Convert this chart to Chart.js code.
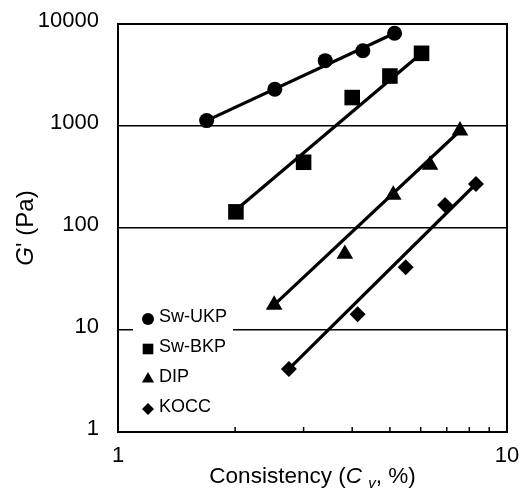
<!DOCTYPE html>
<html><head><meta charset="utf-8">
<script src="https://cdn.jsdelivr.net/npm/chart.js@4"></script>
<style>html,body{margin:0;padding:0;background:#fff}</style>
</head><body>
<canvas id="c" width="525" height="488"></canvas>
<script>
// ---- data ----
const seriesNames = ['Sw-UKP', 'Sw-BKP', 'DIP', 'KOCC'];
const ukpX = [1.69, 2.53, 3.41, 4.26, 5.14];
const ukpY = [1130, 2290, 4370, 5470, 8110];
const bkpX = [2.01, 3.0, 4.0, 5.0, 6.03];
const bkpY = [144, 441, 1900, 3090, 5160];
const dipX = [2.52, 3.83, 5.10, 6.34, 7.57];
const dipY = [17.6, 55.6, 211, 415, 899];
const koccX = [2.75, 4.13, 5.49, 6.93, 8.32];
const koccY = [4.15, 14.3, 41.2, 168, 270];
// fitted power-law lines (end points)
const ukpFitX = [1.69, 5.14];  const ukpFitY = [1130, 8110];
const bkpFitX = [2.01, 6.03];  const bkpFitY = [150, 5160];
const dipFitX = [2.52, 7.57];  const dipFitY = [17.6, 899];
const koccFitX = [2.75, 8.32]; const koccFitY = [4.15, 270];
// axes
const xTickValues = [1, 10];
const xMinorTicks = [2, 3, 4, 5, 6, 7, 8, 9];
const yTickValues = [1, 10, 100, 1000, 10000];
const xTitleParts = [['Consistency (', 'n'], ['C', 'i'], [' ', 'n'], ['v', 'sub'], [', %)', 'n']];
const yTitleParts = [['G', 'i'], ["' (Pa)", 'n']];

const FONT = "'Liberation Sans', Arial, sans-serif";
const pts = (xs, ys) => xs.map((v, i) => ({ x: v, y: ys[i] }));
const styles = ['circle', 'rect', 'triangle', 'rectRot'];
const radii = [7.5, 11, 9.6, 8];
const markerSets = [[ukpX, ukpY], [bkpX, bkpY], [dipX, dipY], [koccX, koccY]];
const fitSets = [[ukpFitX, ukpFitY], [bkpFitX, bkpFitY], [dipFitX, dipFitY], [koccFitX, koccFitY]];

const datasets = [];
markerSets.forEach((s, i) => datasets.push({
  label: seriesNames[i], data: pts(s[0], s[1]), showLine: false,
  pointStyle: styles[i], pointRadius: radii[i], pointHoverRadius: radii[i],
  backgroundColor: '#000', borderColor: '#000', borderWidth: 0, order: 0
}));
fitSets.forEach((s, i) => datasets.push({
  label: seriesNames[i] + ' fit', data: pts(s[0], s[1]), showLine: true,
  pointRadius: 0, borderColor: '#000', borderWidth: 3.2, order: 1
}));

function drawMarker(ctx, style, x, y, r) {
  ctx.beginPath();
  if (style === 'circle') ctx.arc(x, y, r, 0, Math.PI * 2);
  else if (style === 'rect') { const s = r * Math.SQRT1_2; ctx.rect(x - s, y - s, 2 * s, 2 * s); }
  else if (style === 'triangle') {
    for (let k = 0; k < 3; k++) { const a = k * 2 * Math.PI / 3; const px = x + Math.sin(a) * r, py = y - Math.cos(a) * r; k ? ctx.lineTo(px, py) : ctx.moveTo(px, py); }
    ctx.closePath();
  } else { ctx.moveTo(x - r, y); ctx.lineTo(x, y - r); ctx.lineTo(x + r, y); ctx.lineTo(x, y + r); ctx.closePath(); }
  ctx.fill();
}

function drawParts(ctx, parts, size, cx, baseY) {
  const fontFor = t => (t === 'i' ? 'italic ' : '') + (t === 'sub' ? 'italic ' + Math.round(size * 0.68) : size) + 'px ' + FONT;
  let total = 0;
  parts.forEach(p => { ctx.font = fontFor(p[1]); total += ctx.measureText(p[0]).width; });
  let x = cx - total / 2;
  ctx.textAlign = 'left'; ctx.textBaseline = 'alphabetic';
  parts.forEach(p => {
    ctx.font = fontFor(p[1]);
    ctx.fillText(p[0], x, baseY + (p[1] === 'sub' ? size * 0.22 : 0));
    x += ctx.measureText(p[0]).width;
  });
}

const deco = {
  id: 'deco',
  afterDraw(chart) {
    const { ctx, chartArea: a, scales: { x } } = chart;
    ctx.save();
    // legend background hides the grid line behind it
    const lx = a.left + 30, ly0 = a.bottom - 110, step = 30;
    ctx.fillStyle = '#fff';
    ctx.fillRect(a.left + 15, ly0 - 18, 100, 4 * step);
    ctx.strokeStyle = '#000'; ctx.fillStyle = '#000';
    ctx.lineWidth = 2;
    ctx.strokeRect(a.left, a.top, a.right - a.left, a.bottom - a.top);
    ctx.lineWidth = 1.5;
    xMinorTicks.forEach(v => {
      const px = x.getPixelForValue(v);
      ctx.beginPath(); ctx.moveTo(px, a.bottom); ctx.lineTo(px, a.bottom - 5); ctx.stroke();
    });
    // legend
    const legR = [6, 7.5, 7, 6];
    seriesNames.forEach((name, i) => {
      const by = ly0 + i * step;
      drawMarker(ctx, styles[i], lx, by - 3, legR[i]);
      ctx.font = '18px ' + FONT; ctx.textAlign = 'left'; ctx.textBaseline = 'alphabetic';
      ctx.fillText(name, lx + 11, by);
    });
    // axis titles
    drawParts(ctx, xTitleParts, 22.5, (a.left + a.right) / 2, chart.height - 5);
    ctx.translate(33, (a.top + a.bottom) / 2);
    ctx.rotate(-Math.PI / 2);
    drawParts(ctx, yTitleParts, 24, 0, 0);
    ctx.restore();
  }
};

new Chart(document.getElementById('c'), {
  type: 'scatter',
  data: { datasets },
  plugins: [deco],
  options: {
    responsive: false, animation: false,
    layout: { padding: { top: 24, right: 18, left: 0, bottom: 0 } },
    plugins: { legend: { display: false }, tooltip: { enabled: false } },
    scales: {
      x: {
        type: 'logarithmic', min: 1, max: 10,
        afterBuildTicks: s => { s.ticks = xTickValues.map(v => ({ value: v })); },
        afterFit: s => { s.height = 56; },
        grid: { display: false }, border: { display: false },
        ticks: { callback: v => String(v), font: { family: FONT, size: 22 }, color: '#000', padding: 3, maxRotation: 0, autoSkip: false }
      },
      y: {
        type: 'logarithmic', min: 1, max: 10000,
        afterBuildTicks: s => { s.ticks = yTickValues.map(v => ({ value: v })); },
        afterFit: s => { s.width = 118; },
        grid: { color: '#000', lineWidth: 1.5, drawTicks: true, tickLength: 17, tickColor: 'rgba(0,0,0,0)' }, border: { display: false },
        ticks: { callback: v => String(v), font: { family: FONT, size: 22 }, color: '#000', padding: 2, labelOffset: -3, autoSkip: false }
      }
    }
  }
});
</script>
</body></html>
